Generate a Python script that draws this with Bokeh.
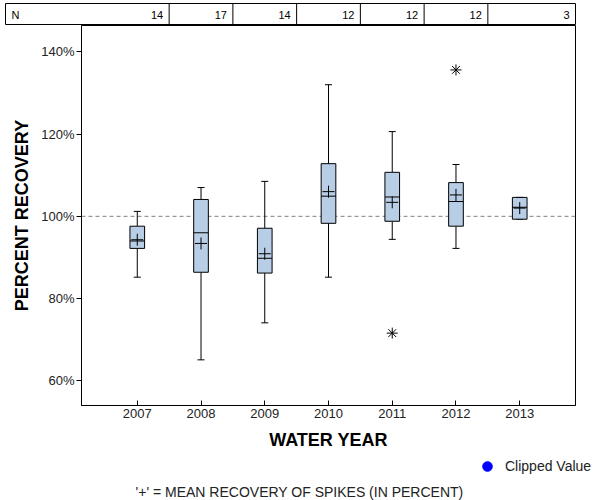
from bokeh.plotting import figure
from bokeh.models import Range1d, FixedTicker, Span, Legend, LegendItem, Label, ColumnDataSource, Row, Column
from bokeh.embed import file_html
from bokeh.resources import INLINE
from bokeh.core.properties import value

# ---- data ----
years = [2007, 2008, 2009, 2010, 2011, 2012, 2013]
n_counts = [14, 17, 14, 12, 12, 12, 3]
whisker_hi = [101.2, 107.0, 108.5, 132.0, 120.6, 112.6, 104.6]
q3 = [97.6, 104.1, 97.1, 112.8, 110.7, 108.2, 104.6]
median = [94.0, 96.0, 89.8, 104.9, 104.7, 103.6, 102.2]
q1 = [92.2, 86.4, 86.2, 98.3, 98.8, 97.6, 99.3]
whisker_lo = [85.2, 65.1, 74.1, 85.2, 94.4, 92.2, 99.3]
mean = [94.3, 93.4, 90.9, 106.0, 103.4, 105.2, 102.0]
outlier_year = [2011, 2012]
outlier_val = [71.6, 135.6]
clipped_year = [float("nan")]   # no clipped values in this chart
clipped_val = [float("nan")]
y_ticks = [60, 80, 100, 120, 140]
y_tick_labels = ["60%", "80%", "100%", "120%", "140%"]
reference_level = 100

FONT = "Liberation Sans"
BOX_W = 0.23
CAP_W = 0.11

x_start, x_end = 2006.125, 2013.875
px_per_unit = 494 / (x_end - x_start)

# ---- N table ----
tbl_left = 5
tbl_start = x_start - (81 - tbl_left) / px_per_unit
t = figure(width=600, height=25, x_range=Range1d(tbl_start, x_end), y_range=Range1d(0, 1),
           x_axis_type=None, y_axis_type=None, toolbar_location=None, output_backend="svg",
           min_border_left=tbl_left, min_border_right=25, min_border_top=3, min_border_bottom=0)
t.grid.visible = False
t.outline_line_color = "black"
t.outline_line_width = 1
cell_right = [y + 0.5 for y in years[:-1]] + [x_end]
t.segment(x0=cell_right[:-1], x1=cell_right[:-1], y0=0, y1=1, line_color="black", line_width=1)
t.text(x=cell_right, y=[0.5] * len(years), text=[str(n) for n in n_counts],
       x_offset=-6, text_align="right", text_baseline="middle",
       text_font=value(FONT), text_font_size="11px", text_color="black")
t.text(x=[tbl_start], y=[0.5], text=["N"], x_offset=6, text_align="left", text_baseline="middle",
       text_font=value(FONT), text_font_size="11px", text_color="black")

# ---- main plot ----
p = figure(width=600, height=427, x_range=Range1d(x_start, x_end), y_range=Range1d(54.0, 146.4),
           toolbar_location=None, output_backend="svg",
           min_border_left=81, min_border_right=25, min_border_top=0, min_border_bottom=46)
p.grid.visible = False
p.outline_line_color = "black"
p.outline_line_width = 1

p.add_layout(Span(location=reference_level, dimension="width", line_color="#808080",
                  line_dash="4 3", line_width=1, level="underlay"))

src = ColumnDataSource(dict(
    x=years, q1=q1, q3=q3, med=median, lo=whisker_lo, hi=whisker_hi, mean=mean,
    xl=[y - BOX_W / 2 for y in years], xr=[y + BOX_W / 2 for y in years],
    cl=[y - CAP_W / 2 for y in years], cr=[y + CAP_W / 2 for y in years],
))
p.segment(x0="x", x1="x", y0="q3", y1="hi", source=src, line_color="black", line_width=1)
p.segment(x0="x", x1="x", y0="q1", y1="lo", source=src, line_color="black", line_width=1)
p.segment(x0="cl", x1="cr", y0="hi", y1="hi", source=src, line_color="black", line_width=1)
p.segment(x0="cl", x1="cr", y0="lo", y1="lo", source=src, line_color="black", line_width=1)
p.vbar(x="x", width=BOX_W, bottom="q1", top="q3", source=src,
       fill_color="#b8cde6", line_color="black", line_width=1)
p.segment(x0="xl", x1="xr", y0="med", y1="med", source=src, line_color="black", line_width=1)
p.scatter(x="x", y="mean", source=src, marker="cross", size=12, line_color="black", line_width=1)
p.scatter(x=outlier_year, y=outlier_val, marker="asterisk", size=11, line_color="black", line_width=1)

p.xaxis.ticker = FixedTicker(ticks=years)
p.xaxis.major_label_overrides = {y: str(y) for y in years}
p.yaxis.ticker = FixedTicker(ticks=y_ticks)
p.yaxis.major_label_overrides = dict(zip(y_ticks, y_tick_labels))
for ax in (p.xaxis[0], p.yaxis[0]):
    ax.minor_tick_line_color = None
    ax.axis_line_color = "black"
    ax.major_tick_line_color = "black"
    ax.major_label_text_font = FONT
    ax.major_label_text_font_size = "13px"
    ax.major_label_text_color = "#222222"
    ax.axis_label_text_font = FONT
    ax.axis_label_text_font_size = "18px"
    ax.axis_label_text_font_style = "bold"
    ax.axis_label_text_color = "black"
p.xaxis.major_tick_in = 5
p.xaxis.major_tick_out = 0
p.yaxis.major_tick_in = 0
p.yaxis.major_tick_out = 5
p.xaxis.major_label_standoff = 3
p.yaxis.major_label_standoff = 2
p.xaxis.axis_label = "WATER YEAR"
p.yaxis.axis_label = "PERCENT RECOVERY"
p.xaxis.axis_label_standoff = 9
p.yaxis.axis_label_standoff = 6

# ---- footer: legend + note ----
f = figure(width=600, height=48, x_range=Range1d(0, 1), y_range=Range1d(0, 1),
           x_axis_type=None, y_axis_type=None, toolbar_location=None, output_backend="svg",
           min_border_left=0, min_border_right=0, min_border_top=0, min_border_bottom=0)
f.grid.visible = False
f.outline_line_color = None
clip_r = f.scatter(x=clipped_year, y=clipped_val, marker="circle", size=10,
                   fill_color="#0000ff", line_color="#0000ff")
legend = Legend(items=[LegendItem(label="Clipped Value", renderers=[clip_r])],
                location=(475, 22), padding=0, margin=0, glyph_width=24, glyph_height=24,
                label_standoff=6, border_line_color=None, background_fill_alpha=0,
                label_text_font=FONT, label_text_font_size="14px", label_text_color="#222222")
f.add_layout(legend, "center")
f.add_layout(Label(x=299, y=9, x_units="screen", y_units="screen",
                   text="'+' = MEAN RECOVERY OF SPIKES (IN PERCENT)", text_align="center",
                   text_baseline="middle", text_font=FONT, text_font_size="14px",
                   text_color="#222222"))

layout = Column(children=[Row(children=[t]), p, Row(children=[f])], spacing=0)
open("out.html", "w").write(file_html(layout, INLINE))
